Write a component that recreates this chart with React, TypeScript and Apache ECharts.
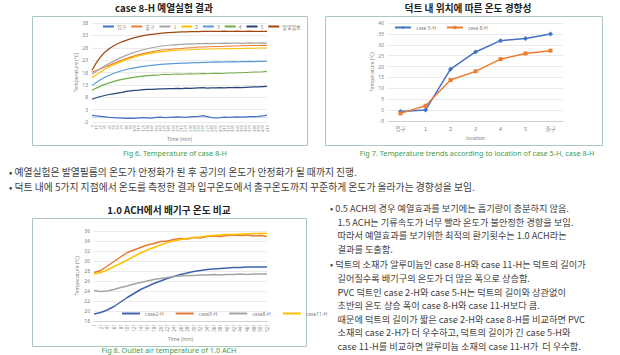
import { useEffect, useRef } from "react";
import * as echarts from "echarts";

const KR = '"Noto Sans CJK KR", "Noto Sans", sans-serif';
const LAT = '"Noto Sans", "Liberation Sans", sans-serif';

// ---- Fig 6: preheating run of case 8-H (sensor temperatures over time) ----
const TIME_6 = [
  "1", "11", "21", "31", "41", "51", "61", "71", "81", "91",
  "101", "111", "121", "131", "141", "151", "161", "171", "181", "191",
  "201", "211", "221", "231", "241", "251", "261", "271", "281", "291",
  "301", "311", "321", "331", "341", "351", "361", "371", "381", "391",
  "401", "411",
];
const FIG6_INLET = [
  0.7, 0.5, 0.3, 0.1, -0.1, -0.2, -0.3, -0.4, -0.5, -0.4,
  -0.5, -0.3, -0.2, -0.3, -0.4, -0.1, 0.0, -0.2, -0.1, 0.0,
  0.1, 0.0, -0.1, 0.1, 0.2, 0.3, 0.6, 0.2, -0.2, -0.3,
  -0.2, 0.0, -0.1, 0.0, 0.1, 0.0, 0.1, 0.2, 0.2, 0.3,
  0.5, 0.8,
];
const FIG6_OUTLET = [
  18.2, 18.8, 19.5, 20.2, 20.9, 21.6, 22.3, 23.0, 23.6, 24.2,
  24.7, 25.2, 25.6, 26.0, 26.4, 26.7, 27.0, 27.2, 27.3, 27.5,
  27.6, 27.7, 27.9, 28.0, 28.1, 28.3, 28.3, 28.4, 28.4, 28.5,
  28.5, 28.6, 28.6, 28.7, 28.7, 28.8, 28.8, 28.9, 28.9, 28.9,
  29.0, 29.0,
];
const FIG6_P1 = [
  17.3, 18.5, 19.6, 20.6, 21.6, 22.5, 23.4, 24.2, 24.9, 25.6,
  26.2, 26.7, 27.2, 27.6, 28.0, 28.3, 28.6, 28.8, 29.0, 29.2,
  29.3, 29.4, 29.5, 29.6, 29.6, 29.7, 29.7, 29.8, 29.7, 29.8,
  29.8, 29.9, 29.8, 29.9, 29.9, 29.8, 29.9, 30.0, 29.9, 29.9,
  30.0, 29.9,
];
const FIG6_P2 = [
  15.9, 17.1, 18.2, 19.3, 20.2, 21.0, 21.8, 22.5, 23.2, 23.7,
  24.3, 24.8, 25.2, 25.5, 25.8, 26.1, 26.3, 26.5, 26.7, 26.8,
  27.0, 27.1, 27.1, 27.2, 27.3, 27.4, 27.4, 27.5, 27.5, 27.5,
  27.6, 27.6, 27.7, 27.6, 27.7, 27.7, 27.8, 27.8, 27.8, 27.9,
  27.9, 27.9,
];
const FIG6_P3 = [
  12.8, 14.0, 15.1, 16.1, 16.9, 17.6, 18.2, 18.7, 19.2, 19.6,
  19.9, 20.2, 20.5, 20.7, 20.9, 21.1, 21.3, 21.4, 21.5, 21.6,
  21.7, 21.8, 21.8, 21.9, 22.0, 22.0, 22.1, 22.1, 22.2, 22.3,
  22.2, 22.3, 22.3, 22.4, 22.3, 22.4, 22.4, 22.5, 22.4, 22.5,
  22.5, 22.6,
];
const FIG6_P4 = [
  10.8, 11.7, 12.5, 13.2, 13.8, 14.3, 14.8, 15.2, 15.5, 15.8,
  16.1, 16.3, 16.5, 16.7, 16.8, 16.9, 17.1, 17.3, 17.2, 17.3,
  17.4, 17.3, 17.4, 17.5, 17.4, 17.5, 17.6, 17.5, 17.6, 17.7,
  17.6, 17.7, 17.8, 17.8, 17.9, 17.9, 18.0, 18.1, 18.2, 18.2,
  18.3, 18.5,
];
const FIG6_P5 = [
  7.2, 7.8, 8.3, 8.7, 9.1, 9.4, 9.7, 10.0, 10.4, 10.6,
  10.8, 10.9, 11.1, 11.2, 11.2, 11.3, 11.4, 11.4, 11.5, 11.5,
  11.6, 11.5, 11.7, 11.6, 11.7, 11.8, 11.9, 11.7, 11.8, 11.8,
  11.9, 11.8, 11.9, 11.9, 12.0, 11.9, 12.0, 12.1, 12.2, 12.2,
  12.3, 12.4,
];
const FIG6_FILM = [
  18.9, 21.9, 24.3, 26.2, 27.6, 28.7, 29.6, 30.4, 31.0, 31.6,
  32.1, 32.5, 32.9, 33.2, 33.4, 33.6, 33.8, 34.0, 34.1, 34.2,
  34.3, 34.4, 34.4, 34.5, 34.5, 34.5, 34.6, 34.6, 34.6, 34.6,
  34.6, 34.7, 34.6, 34.6, 34.7, 34.6, 34.6, 34.7, 34.6, 34.6,
  34.6, 34.6,
];

// ---- Fig 7: temperature by position along the duct ----
const LOCATIONS = ["입구", "1", "2", "3", "4", "5", "출구"];
const FIG7_CASE5H = [-0.6, 0.0, 18.8, 26.7, 31.9, 32.9, 34.9];
const FIG7_CASE8H = [-1.5, 2.0, 13.8, 17.8, 23.4, 26.0, 27.3];

// ---- Fig 8: outlet air temperature at 1.0 ACH ----
const TIME_8 = [
  "1", "21", "41", "61", "81", "101", "121", "141", "161", "181",
  "201", "221", "241", "261", "281", "301", "321", "341", "361", "381",
  "401", "421", "441", "461", "481", "501", "521",
];
const FIG8_CASE2H = [
  19.4, 19.7, 20.2, 20.9, 21.8, 22.7, 23.5, 24.3, 24.9, 25.5,
  26.0, 26.5, 26.9, 27.3, 27.6, 27.9, 28.1, 28.3, 28.4, 28.5,
  28.6, 28.7, 28.7, 28.8, 28.8, 28.8, 28.8,
];
const FIG8_CASE5H = [
  27.7, 28.1, 29.0, 29.9, 30.8, 31.7, 32.2, 32.7, 33.2, 33.5,
  33.9, 34.0, 34.3, 34.5, 34.4, 34.7, 34.6, 34.9, 35.0, 34.9,
  35.1, 35.2, 35.1, 35.2, 35.0, 35.1, 34.9,
];
const FIG8_CASE8H = [
  24.1, 23.9, 24.0, 24.3, 24.7, 25.0, 25.4, 25.7, 26.0, 26.3,
  26.5, 26.7, 26.9, 27.0, 27.1, 27.1, 27.2, 27.2, 27.3, 27.2,
  27.3, 27.3, 27.4, 27.3, 27.4, 27.4, 27.4,
];
const FIG8_CASE11H = [
  27.4, 27.7, 28.2, 28.9, 29.5, 30.2, 30.9, 31.6, 32.2, 32.7,
  33.2, 33.7, 34.0, 34.3, 34.5, 34.7, 34.8, 35.0, 35.1, 35.2,
  35.3, 35.3, 35.4, 35.4, 35.5, 35.5, 35.5,
];

// ---- body text ----
const NOTE_LINES = [
  "• 예열실험은 발열필름의 온도가 안정화가 된 후 공기의 온도가 안정화가 될 때까지 진행.",
  "• 덕트 내에 5가지 지점에서 온도를 측정한 결과 입구온도에서 출구온도까지 꾸준하게 온도가 올라가는 경향성을 보임.",
];
const RIGHT_BULLET_1 = [
  "0.5 ACH의 경우 예열효과를 보기에는 흡기량이 충분하지 않음.",
  "1.5 ACH는 기류속도가 너무 빨라 온도가 불안정한 경향을 보임.",
  "따라서 예열효과를 보기위한 최적의 환기횟수는 1.0 ACH라는",
  "결과를 도출함.",
];
const RIGHT_BULLET_2 = [
  "덕트의 소재가 알루미늄인 case 8-H와 case 11-H는 덕트의 길이가",
  "길어질수록 배기구의 온도가 더 많은 폭으로 상승함.",
  "PVC 덕트인 case 2-H와 case 5-H는 덕트의 길이와 상관없이",
  "초반의 온도 상승 폭이 case 8-H와 case 11-H보다 큼.",
  "때문에 덕트의 길이가 짧은 case 2-H와 case 8-H를 비교하면 PVC",
  "소재의 case 2-H가 더 우수하고, 덕트의 길이가 긴 case 5-H와",
  "case 11-H를 비교하면 알루미늄 소재의 case 11-H가  더 우수함.",
];

const TICK = "#7f7f7f";
const GRIDLINE = "#dedede";
const FRAME = "#a9c9c0";
const CAPTION = "#3e9c4c";
const BODY = "#404040";

function txt(text: string, x: number, y: number, font: string, fill: string, align = "left") {
  return {
    type: "text",
    x,
    y,
    silent: true,
    style: {
      text,
      font,
      fill,
      align,
      verticalAlign: "middle",
      textAlign: align,
      textVerticalAlign: "middle",
    },
  };
}

function frame(x: number, y: number, w: number, h: number) {
  return {
    type: "rect",
    silent: true,
    shape: { x, y, width: w, height: h },
    style: { fill: "none", stroke: FRAME, lineWidth: 1 },
  };
}

function line(name: string, data: number[], color: string, axis: number, width = 1.2) {
  return {
    type: "line",
    name,
    data,
    xAxisIndex: axis,
    yAxisIndex: axis,
    symbol: "none",
    lineStyle: { color, width },
    itemStyle: { color },
  };
}

const valueAxisBase = {
  type: "value",
  axisLine: { show: false },
  axisTick: { show: false },
  splitLine: { lineStyle: { color: GRIDLINE, width: 0.6 } },
  axisLabel: { fontSize: 5, color: TICK, fontFamily: LAT, margin: 4 },
  nameLocation: "middle",
  nameTextStyle: { fontSize: 5, color: TICK, fontFamily: LAT },
};

function buildOption() {
  const titleFont = `bold 9.7px ${KR}`;
  const captionFont = `7.3px ${LAT}`;
  const graphics: any[] = [
    frame(32.5, 16.5, 275, 129),
    frame(325.5, 16.5, 277, 129),
    frame(32.5, 218.5, 274, 128),
    txt("case 8-H 예열실험 결과", 164, 8, titleFont, "#222", "center"),
    txt("덕트 내 위치에 따른 온도 경향성", 468, 8, titleFont, "#222", "center"),
    txt("1.0 ACH에서 배기구 온도 비교", 169, 210, titleFont, "#222", "center"),
    txt("Fig 6. Temperature of case 8-H", 175, 153, captionFont, CAPTION, "center"),
    txt("Fig 7. Temperature trends according to location of case 5-H, case 8-H", 477, 153, captionFont, CAPTION, "center"),
    txt("Fig 8. Outlet air temperature of 1.0 ACH", 169, 350, captionFont, CAPTION, "center"),
  ];

  NOTE_LINES.forEach((t, i) => {
    graphics.push(txt(t, 9, 172 + i * 15, `9.8px ${KR}`, BODY));
  });
  const lh = 13.6;
  RIGHT_BULLET_1.forEach((t, i) => {
    graphics.push(txt(i === 0 ? "• " + t : t, i === 0 ? 330 : 337.5, 208 + i * lh, `9.2px ${KR}`, BODY));
  });
  RIGHT_BULLET_2.forEach((t, i) => {
    graphics.push(txt(i === 0 ? "• " + t : t, i === 0 ? 330 : 337.5, 208 + 4 * lh + 2 + i * lh, `9.2px ${KR}`, BODY));
  });

  return {
    animation: false,
    backgroundColor: "#ffffff",
    textStyle: { fontFamily: LAT },
    grid: [
      { left: 92, top: 23, width: 175, height: 99 },
      { left: 388, top: 23, width: 175, height: 98 },
      { left: 94, top: 231, width: 173, height: 90 },
    ],
    legend: [
      {
        left: 103,
        top: 24,
        icon: "rect",
        itemWidth: 11,
        itemHeight: 2,
        itemGap: 5,
        padding: 0,
        textStyle: { fontSize: 5, color: TICK, fontFamily: KR, padding: [0, 0, 0, -2] },
        data: ["입구", "출구", "1", "2", "3", "4", "5", "발열필름"],
      },
      {
        left: 394,
        top: 25,
        itemWidth: 16,
        itemHeight: 4,
        itemGap: 10,
        padding: 0,
        textStyle: { fontSize: 5, color: TICK, fontFamily: LAT },
        data: ["case 5-H", "case 8-H"],
      },
      {
        left: 122,
        top: 311,
        icon: "rect",
        itemWidth: 18,
        itemHeight: 2,
        itemGap: 12,
        padding: 0,
        textStyle: { fontSize: 5, color: TICK, fontFamily: LAT },
        data: ["case2-H", "case5-H", "case8-H", "case11-H"],
      },
    ],
    xAxis: [
      {
        type: "category",
        gridIndex: 0,
        data: TIME_6,
        boundaryGap: false,
        axisLine: { lineStyle: { color: "#bfbfbf", width: 0.6 } },
        axisTick: { show: false },
        axisLabel: { interval: 0, rotate: 90, fontSize: 4, color: TICK, margin: 3 },
        name: "Time (min)",
        nameLocation: "middle",
        nameGap: 14,
        nameTextStyle: { fontSize: 5, color: TICK },
      },
      {
        type: "category",
        gridIndex: 1,
        data: LOCATIONS,
        boundaryGap: true,
        axisLine: { onZero: false, lineStyle: { color: "#bfbfbf", width: 0.6 } },
        axisTick: { show: false },
        axisLabel: { fontSize: 5.5, color: TICK, margin: 5, fontFamily: KR },
        name: "location",
        nameLocation: "middle",
        nameGap: 14,
        nameTextStyle: { fontSize: 5, color: TICK },
      },
      {
        type: "category",
        gridIndex: 2,
        data: TIME_8,
        boundaryGap: false,
        axisLine: { lineStyle: { color: "#bfbfbf", width: 0.6 } },
        axisTick: { show: false },
        axisLabel: { interval: 0, rotate: 90, fontSize: 4.5, color: TICK, margin: 3 },
        name: "Time (min)",
        nameLocation: "middle",
        nameGap: 15,
        nameTextStyle: { fontSize: 5, color: TICK },
      },
    ],
    yAxis: [
      { ...valueAxisBase, gridIndex: 0, min: -2, max: 38, interval: 5, name: "Temperature (℃)", nameGap: 12 },
      { ...valueAxisBase, gridIndex: 1, min: -5, max: 40, interval: 5, name: "Temperature (℃)", nameGap: 13 },
      { ...valueAxisBase, gridIndex: 2, min: 18, max: 36, interval: 2, name: "Temperature (℃)", nameGap: 15 },
    ],
    series: [
      line("입구", FIG6_INLET, "#4472c4", 0),
      line("출구", FIG6_OUTLET, "#ed7d31", 0),
      line("1", FIG6_P1, "#a5a5a5", 0),
      line("2", FIG6_P2, "#ffc000", 0),
      line("3", FIG6_P3, "#5b9bd5", 0),
      line("4", FIG6_P4, "#70ad47", 0),
      line("5", FIG6_P5, "#264478", 0),
      line("발열필름", FIG6_FILM, "#9e480e", 0),
      {
        type: "line",
        name: "case 5-H",
        data: FIG7_CASE5H,
        xAxisIndex: 1,
        yAxisIndex: 1,
        symbol: "diamond",
        symbolSize: 5,
        lineStyle: { color: "#4472c4", width: 1.5 },
        itemStyle: { color: "#4472c4" },
      },
      {
        type: "line",
        name: "case 8-H",
        data: FIG7_CASE8H,
        xAxisIndex: 1,
        yAxisIndex: 1,
        symbol: "rect",
        symbolSize: 4,
        lineStyle: { color: "#ed7d31", width: 1.5 },
        itemStyle: { color: "#ed7d31" },
      },
      line("case2-H", FIG8_CASE2H, "#3f64ad", 2, 1.5),
      line("case5-H", FIG8_CASE5H, "#e07a36", 2, 1.5),
      line("case8-H", FIG8_CASE8H, "#a5a5a5", 2, 1.5),
      line("case11-H", FIG8_CASE11H, "#ffc000", 2, 1.5),
    ],
    graphic: { elements: graphics },
  };
}

export default function App() {
  const ref = useRef<HTMLDivElement>(null);
  useEffect(() => {
    if (!ref.current) return;
    const chart = echarts.init(ref.current, null, { renderer: "svg", width: 620, height: 355 });
    chart.setOption(buildOption() as any);
    return () => chart.dispose();
  }, []);
  return (
    <div
      ref={ref}
      style={{ position: "fixed", left: 0, top: 0, width: 620, height: 355, background: "#fff" }}
    />
  );
}
